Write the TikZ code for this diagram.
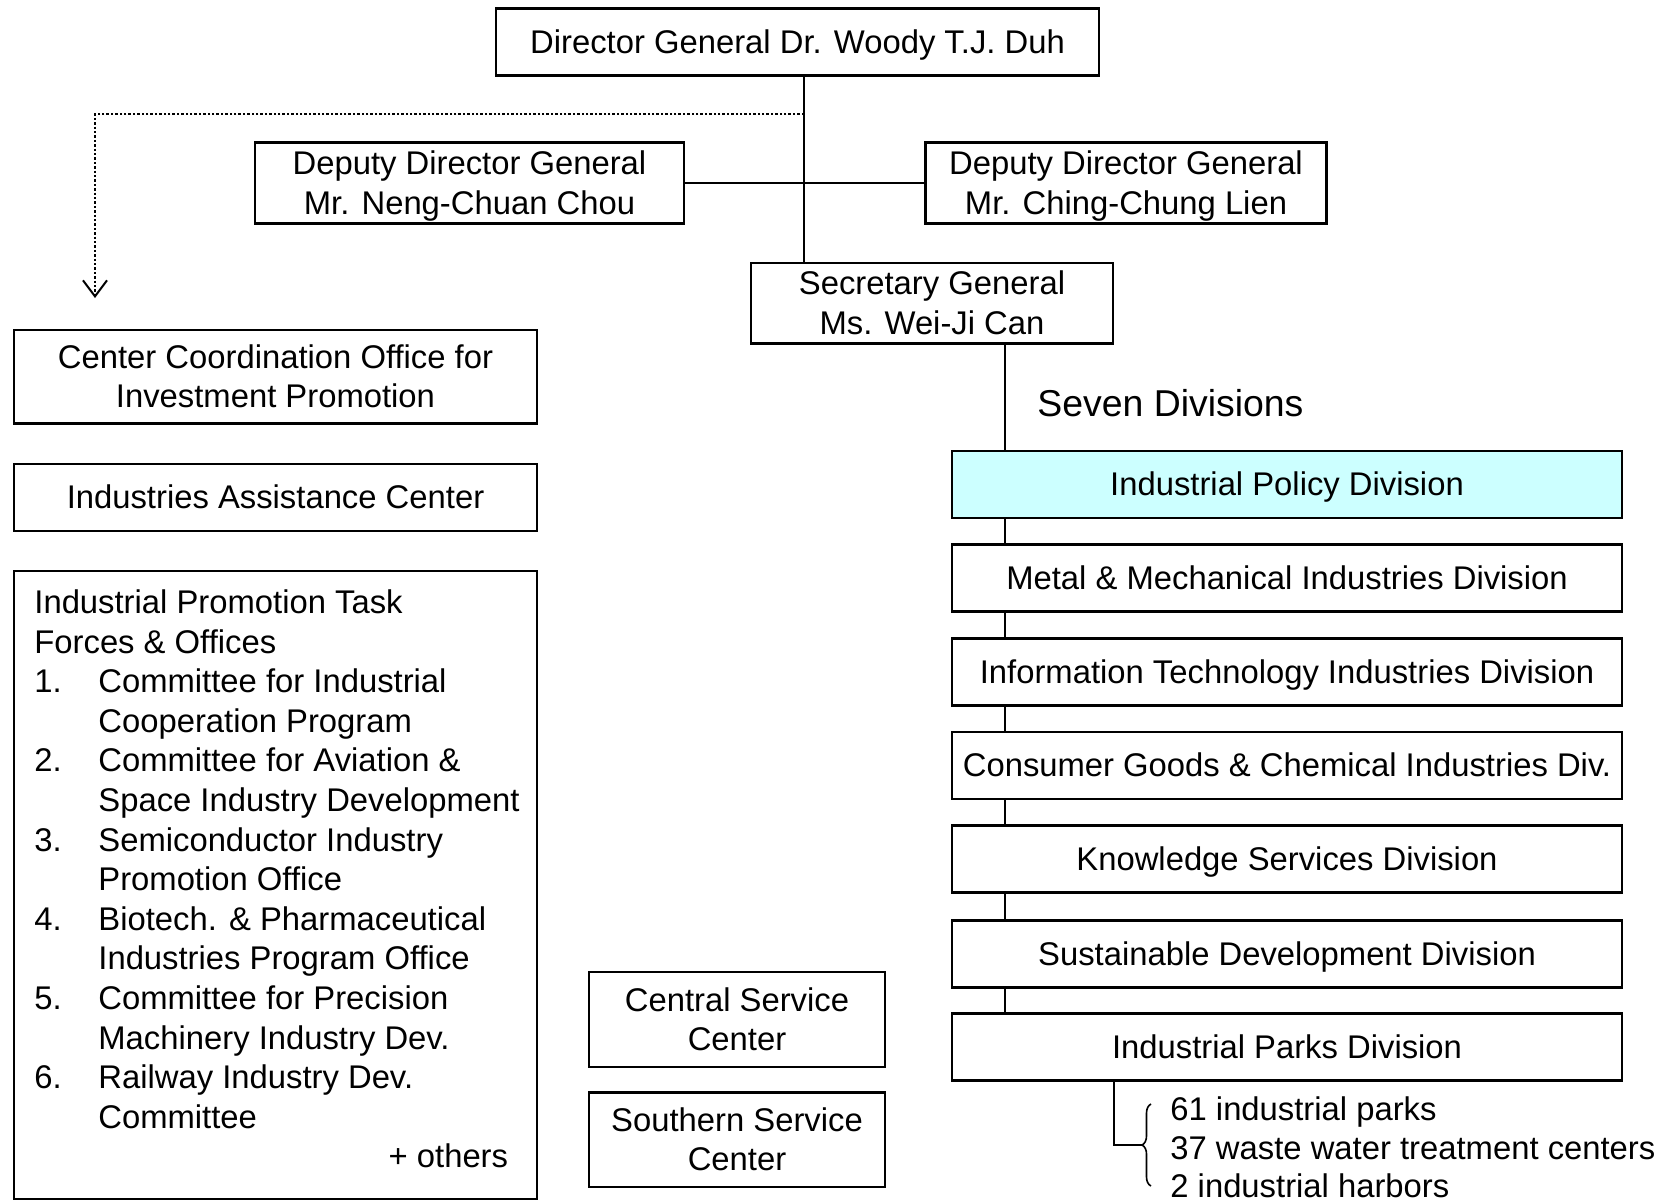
\documentclass[tikz,border=0pt]{standalone}
\usepackage{fontspec}
\setmainfont{Liberation Sans}
\usetikzlibrary{arrows.meta,decorations.pathreplacing}
\definecolor{policyfill}{RGB}{204,255,255}
\newcommand{\bodyfont}{\fontsize{16.4}{19.7}\selectfont}
\begin{document}
\begin{tikzpicture}[x=0.5pt,y=-0.5pt,
  orgbox/.style={draw,line width=1.4pt,inner sep=0pt,align=center,font=\bodyfont,text depth=0.5pt},
  divbox/.style={orgbox,minimum width=335pt,minimum height=33.5pt},
  link/.style={line width=1pt},
  plain/.style={inner sep=0pt,font=\bodyfont}]
\useasboundingbox (0,0) rectangle (1668,1201);
\clip (0,0) rectangle (1668,1201);
% top
\node[orgbox,minimum width=301.5pt,minimum height=33.5pt] (dir) at (797.5,42) {Director General Dr. Woody T.J. Duh};
\node[orgbox,minimum width=214.5pt,minimum height=40.5pt] (depL) at (469.5,183) {Deputy Director General\\Mr. Neng-Chuan Chou};
\node[orgbox,minimum width=200.5pt,minimum height=40.5pt] (depR) at (1126,183) {Deputy Director General\\Mr. Ching-Chung Lien};
\node[orgbox,minimum width=181pt,minimum height=40.3pt] (sec) at (932,303.3) {Secretary General\\Ms. Wei-Ji Can};
% divisions
\node[divbox,fill=policyfill] (d1) at (1287,484.5) {Industrial Policy Division};
\node[divbox] (d2) at (1287,578.2) {Metal \& Mechanical Industries Division};
\node[divbox] (d3) at (1287,671.8) {Information Technology Industries Division};
\node[divbox] (d4) at (1287,765.4) {Consumer Goods \& Chemical Industries Div.};
\node[divbox] (d5) at (1287,859) {Knowledge Services Division};
\node[divbox] (d6) at (1287,953.7) {Sustainable Development Division};
\node[divbox] (d7) at (1287,1047.3) {Industrial Parks Division};
\node[inner sep=0pt,font=\fontsize{18.7}{22}\selectfont,anchor=base west] (seven) at (1037,416) {Seven Divisions};
% left column
\node[orgbox,minimum width=261.5pt,minimum height=46.7pt] (cco) at (275.5,376.7) {Center Coordination Office for\\Investment Promotion};
\node[orgbox,minimum width=261.5pt,minimum height=33.5pt] (iac) at (275.5,497.5) {Industries Assistance Center};
\node[orgbox,minimum width=261.5pt,minimum height=314pt] (task) at (275.5,885) {};
\node[plain,anchor=base west] (t0) at (34,613.5) {Industrial Promotion Task};
\node[plain,anchor=base west] (t1) at (34,653.1) {Forces \& Offices};
\node[plain,anchor=base west] (n1) at (34,692.7) {1.};
\node[plain,anchor=base west] (t2) at (98,692.7) {Committee for Industrial};
\node[plain,anchor=base west] (t3) at (98,732.3) {Cooperation Program};
\node[plain,anchor=base west] (n2) at (34,771.9) {2.};
\node[plain,anchor=base west] (t4) at (98,771.9) {Committee for Aviation \&};
\node[plain,anchor=base west] (t5) at (98,811.5) {Space Industry Development};
\node[plain,anchor=base west] (n3) at (34,851.1) {3.};
\node[plain,anchor=base west] (t6) at (98,851.1) {Semiconductor Industry};
\node[plain,anchor=base west] (t7) at (98,890.7) {Promotion Office};
\node[plain,anchor=base west] (n4) at (34,930.3) {4.};
\node[plain,anchor=base west] (t8) at (98,930.3) {Biotech. \& Pharmaceutical};
\node[plain,anchor=base west] (t9) at (98,969.9) {Industries Program Office};
\node[plain,anchor=base west] (n5) at (34,1009.5) {5.};
\node[plain,anchor=base west] (t10) at (98,1009.5) {Committee for Precision};
\node[plain,anchor=base west] (t11) at (98,1049.1) {Machinery Industry Dev.};
\node[plain,anchor=base west] (n6) at (34,1088.7) {6.};
\node[plain,anchor=base west] (t12) at (98,1088.7) {Railway Industry Dev.};
\node[plain,anchor=base west] (t13) at (98,1128.3) {Committee};
\node[plain,anchor=base east] (t14) at (508.5,1167.9) {+ others};
% service centers
\node[orgbox,minimum width=148pt,minimum height=47.5pt] (csc) at (737,1019.5) {Central Service\\Center};
\node[orgbox,minimum width=148pt,minimum height=47.25pt] (ssc) at (737,1139.75) {Southern Service\\Center};
% connectors
\coordinate (spine) at (804,114);
\coordinate (bend) at (95,114);
\coordinate (arrowend) at (95,298);
\draw[link] (dir.south -| spine) -- (sec.north -| spine);
\draw[line width=1.4pt] (depL.east) -- (depR.west);
\draw[line width=1.2pt,densely dotted,-{Straight Barb[length=8pt,width=12pt,line width=1pt]}] (spine) -- (bend) -- (arrowend);
\coordinate (dspine) at (1005,0);
\draw[link] (sec.south -| dspine) -- (d1.north -| dspine);
\foreach \a/\b in {d1/d2,d2/d3,d3/d4,d4/d5,d5/d6,d6/d7}
  \draw[link] (\a.south -| dspine) -- (\b.north -| dspine);
\coordinate (pk) at (1114,1145);
\coordinate (br) at (1142,1145);
\draw[link] (d7.south -| pk) -- (pk) -- (br);
\draw[line width=0.8pt,decorate,decoration={brace,amplitude=4.5pt}] (1151,1186) -- (1151,1104);
\node[plain,anchor=base west] (b1) at (1170,1120) {61 industrial parks};
\node[plain,anchor=base west] (b2) at (1170,1159) {37 waste water treatment centers};
\node[plain,anchor=base west] (b3) at (1170,1197) {2 industrial harbors};
\end{tikzpicture}
\end{document}
